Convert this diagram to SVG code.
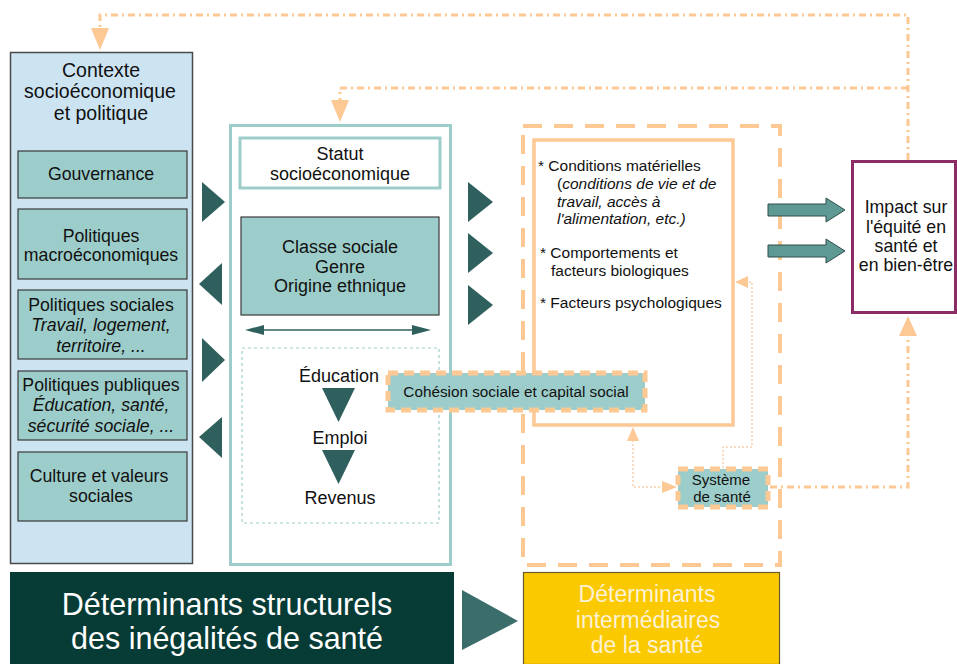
<svg xmlns="http://www.w3.org/2000/svg" width="957" height="664" viewBox="0 0 957 664">
<style>
text{font-family:"Liberation Sans",Arial,sans-serif;fill:#111;text-anchor:middle}
.t17{font-size:17.7px}
.t18{font-size:18px}
.it{font-style:italic}
.box{fill:#9dcdca;stroke:#3a3a3a;stroke-width:1.2}
.tri{fill:#2f605d}
.fb{fill:none;stroke:#fcc894;stroke-width:3;stroke-dasharray:7 4 2 4}
.thin{fill:none;stroke:#f5b783;stroke-width:1;stroke-dasharray:2 2}
.odash{fill:#9dcdca;stroke:#fcc894;stroke-width:5;stroke-dasharray:10 6}
.ar{fill:#fcc894}
.r{font-size:15.5px;text-anchor:start}
</style>
<rect width="957" height="664" fill="#fff"/>

<g id="contexte">
<rect x="10.5" y="52.5" width="182" height="511" fill="#cce4f1" stroke="#4a4a4a" stroke-width="1.5"/>
<text x="101" y="77" style="font-size:19.5px">Contexte</text>
<text x="100" y="98" style="font-size:19.5px">socioéconomique</text>
<text x="101" y="120" style="font-size:19.5px">et politique</text>
</g>
<g id="gouvernance"><rect class="box" x="18" y="151" width="169" height="47"/><text class="t17" x="101" y="180">Gouvernance</text></g>
<g id="macro"><rect class="box" x="18" y="209" width="169" height="70"/><text class="t17" x="101" y="242">Politiques</text><text class="t17" x="101" y="261">macroéconomiques</text></g>
<g id="sociales"><rect class="box" x="18" y="290" width="169" height="69"/><text class="t17" x="101" y="311">Politiques sociales</text><text class="t17 it" x="101" y="331">Travail, logement,</text><text class="t17 it" x="101" y="352">territoire, ...</text></g>
<g id="publiques"><rect class="box" x="18" y="371" width="169" height="69"/><text class="t17" x="101" y="391">Politiques publiques</text><text class="t17 it" x="101" y="411">Éducation, santé,</text><text class="t17 it" x="101" y="432">sécurité sociale, ...</text></g>
<g id="culture"><rect class="box" x="18" y="452" width="169" height="69"/><text class="t17" x="99" y="482">Culture et valeurs</text><text class="t17" x="101" y="502">sociales</text></g>

<g id="statut-group">
<rect x="230.5" y="125.5" width="220" height="439" fill="#fff" stroke="#9dcdca" stroke-width="3"/>
</g>
<g id="statut"><rect x="240" y="138" width="200" height="50" fill="#fff" stroke="#9dcdca" stroke-width="3"/><text class="t18" x="340" y="160">Statut</text><text class="t18" x="340" y="180">socioéconomique</text></g>
<g id="classe"><rect class="box" x="241" y="217" width="198" height="98"/><text class="t18" x="340" y="253">Classe sociale</text><text class="t18" x="340" y="273">Genre</text><text class="t18" x="340" y="292">Origine ethnique</text></g>
<g id="education-box">
<rect x="242" y="348" width="197" height="175" fill="none" stroke="#9dcdca" stroke-width="1.2" stroke-dasharray="3 3"/>
<text class="t18" x="339" y="382">Éducation</text>
<text class="t18" x="340" y="444">Emploi</text>
<text class="t18" x="340" y="504">Revenus</text>
</g>

<g id="intermediaires-group">
<rect x="523" y="126" width="257" height="439" fill="none" stroke="#fcc894" stroke-width="4" stroke-dasharray="19 12"/>
</g>
<g id="conditions">
<rect x="534" y="140" width="199" height="285" fill="none" stroke="#fcc894" stroke-width="3.5"/>
<text class="r" x="538" y="171">* Conditions matérielles</text>
<text class="r" x="557" y="189">(<tspan class="it">conditions de vie et de</tspan></text>
<text class="r it" x="557" y="207">travail, accès à</text>
<text class="r it" x="557" y="224">l'alimentation, etc.)</text>
<text class="r" x="540" y="258">* Comportements et</text>
<text class="r" x="551" y="276">facteurs biologiques</text>
<text class="r" x="540" y="308">* Facteurs psychologiques</text>
</g>
<g id="cohesion"><rect class="odash" x="388" y="373" width="257" height="37"/><text x="516" y="397" style="font-size:15.3px">Cohésion sociale et capital social</text></g>
<g id="systeme"><rect class="odash" x="678" y="469" width="90" height="38"/><text x="721" y="485" style="font-size:15px">Système</text><text x="722" y="502" style="font-size:15px">de santé</text></g>

<g id="impact">
<rect x="852.5" y="161.5" width="103" height="151" fill="#fff" stroke="#8b2c64" stroke-width="3"/>
<text class="t17" x="906" y="213">Impact sur</text>
<text class="t17" x="906" y="233">l'équité en</text>
<text class="t17" x="906" y="252">santé et</text>
<text class="t17" x="906" y="271">en bien-être</text>
</g>

<g id="structurels">
<rect x="10" y="572" width="444" height="92" fill="#073b35"/>
<text x="227" y="615" style="font-size:30.5px;fill:#fff">Déterminants structurels</text>
<text x="227" y="649" style="font-size:30.5px;fill:#fff">des inégalités de santé</text>
</g>
<g id="intermediaires">
<rect x="523.5" y="572.5" width="256" height="92" fill="#fac900" stroke="#6b5a2a" stroke-width="1.2"/>
<text x="647" y="602" style="font-size:23px;fill:#fdf1d4">Déterminants</text>
<text x="648" y="628" style="font-size:23px;fill:#fdf1d4">intermédiaires</text>
<text x="647" y="653" style="font-size:23px;fill:#fdf1d4">de la santé</text>
</g>

<g id="connectors">
<polygon class="tri" points="202,182 225,202 202,222"/>
<polygon class="tri" points="222,263 199,284 222,305"/>
<polygon class="tri" points="202,338 225,360 202,382"/>
<polygon class="tri" points="222,417 199,437 222,458"/>
<polygon class="tri" points="468,182 493,202 468,222"/>
<polygon class="tri" points="468,233 493,253 468,273"/>
<polygon class="tri" points="468,285 493,305 468,325"/>
<polygon class="tri" points="322,388 355,388 338.5,422"/>
<polygon class="tri" points="322,450 355,450 338.5,484"/>
<line x1="258" y1="330" x2="418" y2="330" stroke="#2f605d" stroke-width="1.5"/>
<polygon class="tri" points="245,330 264,325 264,335"/>
<polygon class="tri" points="431,330 412,325 412,335"/>
<polygon fill="#3b6d6a" points="462,590 518,621 462,650"/>
<polygon points="768,204 826,204 826,198 845,210 826,222 826,216 768,216" fill="#5e9994" stroke="#2f4f4d" stroke-width="1"/>
<polygon points="768,245 826,245 826,239 845,251 826,263 826,257 768,257" fill="#5e9994" stroke="#2f4f4d" stroke-width="1"/>
<polyline class="fb" points="908,160 908,15 100,15 100,30"/>
<polygon class="ar" points="91,28 109,28 100,50"/>
<polyline class="fb" points="908,88 340,88 340,102"/>
<polygon class="ar" points="331,100 349,100 340,122"/>
<polyline class="fb" points="770,487 908,487 908,335"/>
<polygon class="ar" points="899,336 917,336 908,316"/>
<polyline class="thin" points="633,440 633,487 663,487"/>
<polygon class="ar" points="627,441 639,441 633,427"/>
<polygon class="ar" points="662,481 662,493 677,487"/>
<polyline class="thin" points="723,468 723,447 752,447 752,282 747,282"/>
<polygon class="ar" points="748,276 748,288 735,282"/>
</g>
</svg>
